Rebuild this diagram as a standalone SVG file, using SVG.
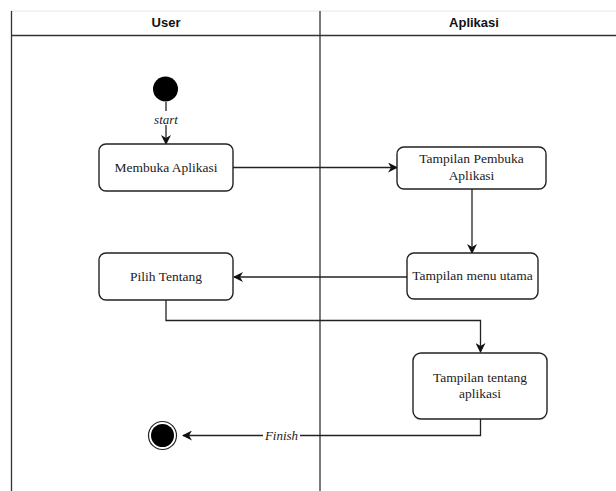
<svg xmlns="http://www.w3.org/2000/svg" width="616" height="491" viewBox="0 0 616 491">
  <defs>
    <style>
      .lane { stroke: #333; stroke-width: 1.3; fill: none; }
      .head { font-family: "Liberation Sans", Arial, sans-serif; font-size: 13px; font-weight: bold; fill: #111; text-anchor: middle; }
      .box { fill: #fff; stroke: #222; stroke-width: 1.4; }
      .lbl { font-family: "Liberation Serif", "Times New Roman", serif; font-size: 13.5px; fill: #222; text-anchor: middle; }
      .edge { stroke: #222; stroke-width: 1.3; fill: none; marker-end: url(#arrow); }
      .elbl { font-family: "Liberation Serif", "Times New Roman", serif; font-size: 13px; font-style: italic; fill: #222; text-anchor: middle; }
    </style>
    <marker id="arrow" viewBox="0 0 10 10" refX="9" refY="5" markerWidth="10" markerHeight="10" markerUnits="userSpaceOnUse" orient="auto">
      <path d="M0,0 L10,5 L0,10 L3,5 Z" fill="#111"/>
    </marker>
  </defs>

  <rect width="616" height="491" fill="#fff"/>

  <!-- swimlanes -->
  <g id="lanes">
    <line x1="11" y1="11" x2="616" y2="11" stroke="#e6e6e6" stroke-width="1"/>
    <line class="lane" x1="11.5" y1="11" x2="11.5" y2="491"/>
    <line class="lane" x1="320" y1="11" x2="320" y2="491"/>
    <line class="lane" x1="11" y1="35.5" x2="616" y2="35.5"/>
    <text class="head" x="166" y="27">User</text>
    <text class="head" x="474" y="27">Aplikasi</text>
  </g>

  <!-- connectors -->
  <g id="connectors">
    <line class="edge" x1="166" y1="102" x2="166" y2="144"/>
    <rect x="150" y="111" width="32" height="14" fill="#fff"/>
    <text class="elbl" x="166" y="124" font-size="11.5">start</text>

    <line class="edge" x1="233" y1="167.5" x2="397" y2="167.5"/>
    <line class="edge" x1="472" y1="189" x2="472" y2="253"/>
    <line class="edge" x1="407" y1="277" x2="234" y2="277"/>
    <polyline class="edge" points="166,300 166,320.5 480.5,320.5 480.5,352"/>
    <polyline class="edge" points="480.5,419 480.5,435.5 183,435.5"/>
    <rect x="263" y="428" width="37" height="15" fill="#fff"/>
    <text class="elbl" x="281.5" y="440">Finish</text>
  </g>

  <!-- nodes -->
  <g id="start">
    <circle cx="165.5" cy="89" r="12.5" fill="#000"/>
  </g>

  <g id="membuka-aplikasi">
    <rect class="box" x="99" y="144" width="134" height="47" rx="7"/>
    <text class="lbl" x="166" y="172">Membuka Aplikasi</text>
  </g>

  <g id="tampilan-pembuka">
    <rect class="box" x="397" y="147" width="149" height="42" rx="7"/>
    <text class="lbl" x="471.5" y="163">Tampilan Pembuka</text>
    <text class="lbl" x="471.5" y="180">Aplikasi</text>
  </g>

  <g id="tampilan-menu">
    <rect class="box" x="407" y="253" width="131" height="46" rx="7"/>
    <text class="lbl" x="472.5" y="280">Tampilan menu utama</text>
  </g>

  <g id="pilih-tentang">
    <rect class="box" x="99" y="253" width="134" height="47" rx="7"/>
    <text class="lbl" x="166" y="281">Pilih Tentang</text>
  </g>

  <g id="tampilan-tentang">
    <rect class="box" x="413" y="353" width="134" height="66" rx="8"/>
    <text class="lbl" x="480" y="382">Tampilan tentang</text>
    <text class="lbl" x="480" y="398">aplikasi</text>
  </g>

  <g id="finish">
    <circle cx="162.5" cy="435.5" r="14" fill="#fff" stroke="#222" stroke-width="1.2"/>
    <circle cx="162.5" cy="435.5" r="11.5" fill="#000"/>
  </g>
</svg>
